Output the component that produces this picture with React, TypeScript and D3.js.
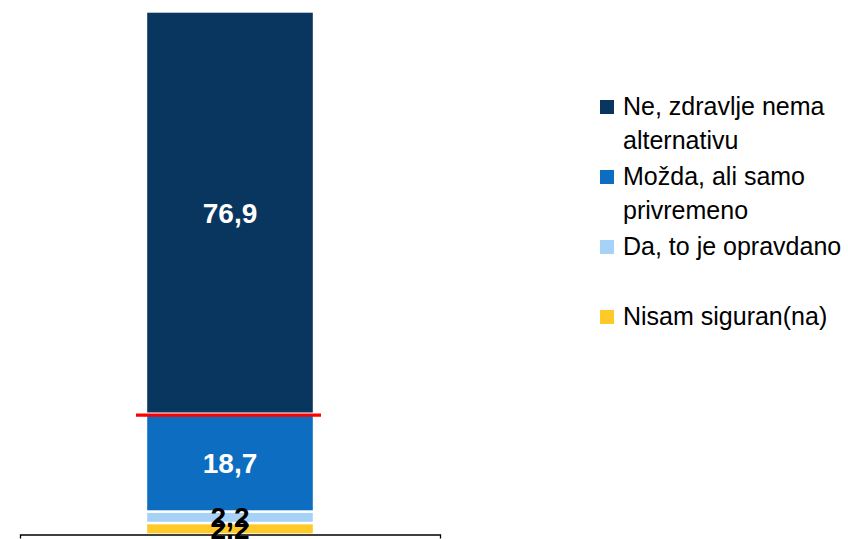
import React, { useEffect, useRef } from "react";
import * as d3 from "d3";

// ---- data ----
const categories = [""];
const seriesNames = [
  "Ne, zdravlje nema alternativu",
  "Možda, ali samo privremeno",
  "Da, to je opravdano",
  "Nisam siguran(na)",
];
const legendLines = [
  ["Ne, zdravlje nema", "alternativu"],
  ["Možda, ali samo", "privremeno"],
  ["Da, to je opravdano"],
  ["Nisam siguran(na)"],
];
const values = [76.9, 18.7, 2.2, 2.2];
const valueLabels = ["76,9", "18,7", "2,2", "2,2"];
const colors = ["#08365F", "#0D6DC0", "#A6D2F7", "#FFC928"];
const labelColors = ["#FFFFFF", "#FFFFFF", "#000000", "#000000"];

const W = 848;
const H = 539;
const plot = { left: 20, right: 440, top: 11.5, bottom: 534.5 };

export default function App() {
  const axisRef = useRef<SVGGElement>(null);

  const x = d3
    .scaleBand<string>()
    .domain(categories)
    .range([plot.left, plot.right])
    .paddingInner(0)
    .paddingOuter(0.75);
  const y = d3.scaleLinear().domain([0, 100]).range([plot.bottom, plot.top]);

  // stack from bottom: last series at bottom
  const order = [3, 2, 1, 0];
  const segs: { i: number; y0: number; y1: number }[] = [];
  let acc = 0;
  for (const i of order) {
    segs.push({ i, y0: acc, y1: acc + values[i] });
    acc += values[i];
  }

  useEffect(() => {
    if (!axisRef.current) return;
    const g = d3.select(axisRef.current);
    g.selectAll("*").remove();
    g.call(
      d3.axisBottom(x).tickSizeInner(0).tickSizeOuter(4).tickValues([])
    );
    g.select(".domain").attr("stroke", "#000").attr("stroke-width", 1.3);
  }, []);

  const bx = x(categories[0]) as number;
  const bw = x.bandwidth();
  const redBoundary = values[1] + values[2] + values[3];

  return (
    <svg
      width={W}
      height={H}
      style={{ position: "absolute", left: 0, top: 0, background: "#fff" }}
      fontFamily="'Liberation Sans', Arial, sans-serif"
    >
      <rect x={0} y={0} width={W} height={H} fill="#fff" />
      {segs.map((s) => (
        <rect
          key={s.i}
          x={bx}
          width={bw}
          y={y(s.y1)}
          height={y(s.y0) - y(s.y1)}
          fill={colors[s.i]}
          stroke="#fff"
          strokeWidth={2.4}
        />
      ))}
      <line
        x1={bx - 10}
        x2={bx + bw + 7}
        y1={y(redBoundary) + 1.5}
        y2={y(redBoundary) + 1.5}
        stroke="#FF0000"
        strokeWidth={3.2}
      />
      <g ref={axisRef} transform={`translate(0,${plot.bottom})`} />
      {segs.map((s) => (
        <text
          key={"l" + s.i}
          x={bx + bw / 2}
          y={(y(s.y0) + y(s.y1)) / 2}
          dy="0.36em"
          textAnchor="middle"
          fontWeight="bold"
          fontSize={28}
          fill={labelColors[s.i]}
        >
          {valueLabels[s.i]}
        </text>
      ))}
      {legendLines.map((lines, i) => {
        const base = 115 + i * 70;
        return (
          <g key={"lg" + i}>
            <rect x={600} y={base - 15} width={14} height={14} fill={colors[i]} />
            {lines.map((t, j) => (
              <text key={j} x={623} y={base + j * 34} fontSize={25} fill="#000">
                {t}
              </text>
            ))}
          </g>
        );
      })}
    </svg>
  );
}
